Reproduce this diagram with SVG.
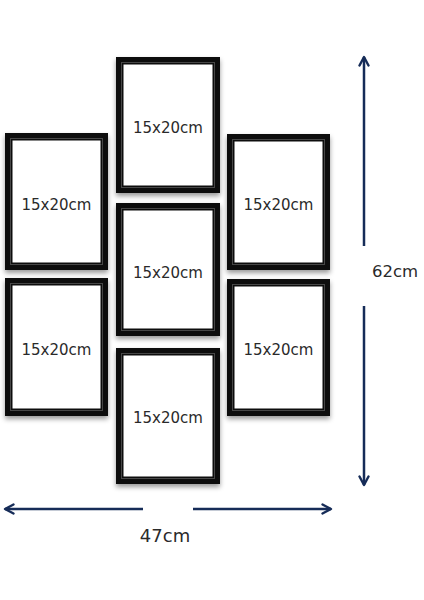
<svg xmlns="http://www.w3.org/2000/svg" width="424" height="600" viewBox="0 0 424 600">
<defs>
<filter id="sh" x="-20%" y="-20%" width="140%" height="140%">
<feDropShadow dx="0" dy="3" stdDeviation="2.5" flood-color="#000" flood-opacity="0.4"/>
</filter>
<marker id="ah" viewBox="0 0 12 12" refX="10" refY="6" markerWidth="12" markerHeight="12" markerUnits="userSpaceOnUse" orient="auto-start-reverse">
<path d="M1.5,1.5 L10,6 L1.5,10.5" fill="none" stroke="#162c58" stroke-width="2.4" stroke-linecap="round" stroke-linejoin="round"/>
</marker>
</defs>
<style>
.fo{fill:#0b0b0b;filter:url(#sh)}
.fl{fill:none;stroke:#474747;stroke-width:1}
.fw{fill:#fff}
.lb{font-family:"DejaVu Sans","Liberation Sans",sans-serif;font-size:15px;fill:#2a2a2a;text-anchor:middle}
.dim{fill:none;stroke:#162c58;stroke-width:2.5}
.dt{font-family:"DejaVu Sans","Liberation Sans",sans-serif;fill:#2a2a2a;text-anchor:middle}
</style>
<rect width="424" height="600" fill="#fff"/>
<g id="frame-top-center">
<rect class="fo" x="116" y="57" width="104" height="136"/>
<rect class="fl" x="121.5" y="62.5" width="93" height="125"/>
<rect class="fw" x="123.5" y="64.5" width="89" height="121"/>
<text class="lb" x="168" y="133">15x20cm</text>
</g>
<g id="frame-left-top">
<rect class="fo" x="5" y="133" width="103" height="137"/>
<rect class="fl" x="10.5" y="138.5" width="92" height="126"/>
<rect class="fw" x="12.5" y="140.5" width="88" height="122"/>
<text class="lb" x="56.5" y="210">15x20cm</text>
</g>
<g id="frame-right-top">
<rect class="fo" x="227" y="134" width="103" height="136"/>
<rect class="fl" x="232.5" y="139.5" width="92" height="125"/>
<rect class="fw" x="234.5" y="141.5" width="88" height="121"/>
<text class="lb" x="278.5" y="210">15x20cm</text>
</g>
<g id="frame-middle-center">
<rect class="fo" x="116" y="203" width="104" height="133"/>
<rect class="fl" x="121.5" y="208.5" width="93" height="122"/>
<rect class="fw" x="123.5" y="210.5" width="89" height="118"/>
<text class="lb" x="168" y="278">15x20cm</text>
</g>
<g id="frame-left-bottom">
<rect class="fo" x="5" y="278" width="103" height="138"/>
<rect class="fl" x="10.5" y="283.5" width="92" height="127"/>
<rect class="fw" x="12.5" y="285.5" width="88" height="123"/>
<text class="lb" x="56.5" y="355">15x20cm</text>
</g>
<g id="frame-right-bottom">
<rect class="fo" x="227" y="279" width="103" height="137"/>
<rect class="fl" x="232.5" y="284.5" width="92" height="126"/>
<rect class="fw" x="234.5" y="286.5" width="88" height="122"/>
<text class="lb" x="278.5" y="355">15x20cm</text>
</g>
<g id="frame-bottom-center">
<rect class="fo" x="116" y="348" width="104" height="136"/>
<rect class="fl" x="121.5" y="353.5" width="93" height="125"/>
<rect class="fw" x="123.5" y="355.5" width="89" height="121"/>
<text class="lb" x="168" y="423">15x20cm</text>
</g>
<g id="connectors">
<line class="dim" x1="364" y1="246" x2="364" y2="57" marker-end="url(#ah)"/>
<line class="dim" x1="364" y1="306" x2="364" y2="485" marker-end="url(#ah)"/>
<line class="dim" x1="143" y1="509" x2="5" y2="509" marker-end="url(#ah)"/>
<line class="dim" x1="193" y1="509" x2="331" y2="509" marker-end="url(#ah)"/>
</g>
<g id="dim-labels">
<text class="dt" x="395" y="277" font-size="16.5">62cm</text>
<text class="dt" x="165" y="542" font-size="18">47cm</text>
</g>
</svg>
